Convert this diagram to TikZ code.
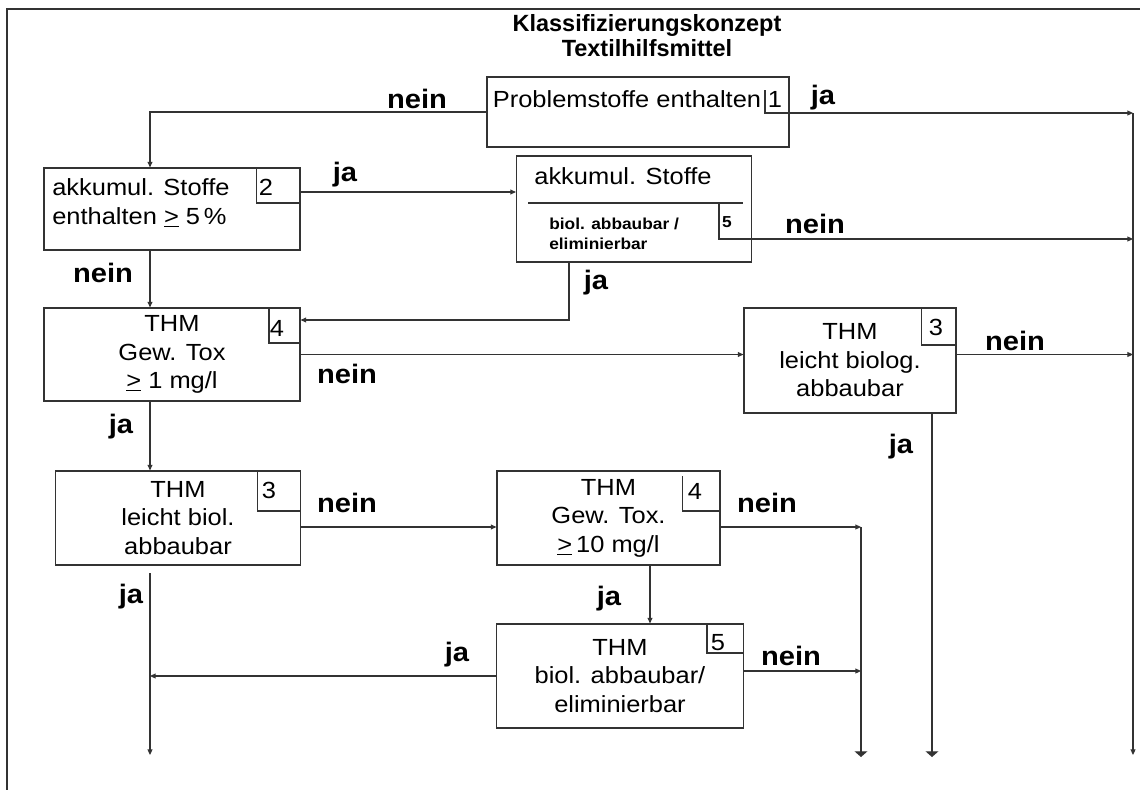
\documentclass[tikz,border=0pt]{standalone}
\usepackage{fontspec}
\setmainfont{Liberation Sans}[FakeStretch=1.09]
\newfontfamily\titlefont{Liberation Sans}
\usetikzlibrary{arrows.meta, positioning}

\begin{document}
\begin{tikzpicture}[
  x=0.025cm, y=-0.025cm,
  box/.style 2 args={draw=black!80, line width=0.8pt, minimum width=#1*0.025cm,
    minimum height=#2*0.025cm, inner sep=0pt, align=center,
    font=\fontsize{16.6}{20.3}\selectfont},
  boxtxt/.style={inner sep=0pt, align=center, font=\fontsize{16.6}{20.3}\selectfont},
  tagnum/.style={inner sep=0pt, font=\fontsize{16.6}{20}\selectfont},
  lbl/.style={inner sep=0pt, font=\bfseries\fontsize{19}{20}\selectfont},
  smalltxt/.style={inner sep=0pt, align=left, font=\bfseries\fontsize{11.3}{14.2}\selectfont},
  wire/.style={draw=black!80, line width=0.8pt},
  flow/.style={wire, -{Triangle[length=4pt, width=3.5pt]}},
  sink/.style={wire, -{Triangle[length=4pt, width=9pt]}}
  ]

\useasboundingbox (0,0) rectangle (1140,790);

% frame
\draw[wire] (7,790) -- (7,9) -- (1140,9);

% Title
\node[align=center, font=\titlefont\bfseries\fontsize{16.7}{17.8}\selectfont] (title) at (647,35.5)
  {Klassifizierungskonzept\\Textilhilfsmittel};

% lower ends of the exits
\coordinate (lx) at (150,755);
\coordinate (mb) at (861,757);
\coordinate (mt) at (932,757);
\coordinate (rt) at (1133,755);

% Boxes
\node[box={302}{70}] (b1) at (638,112) {};
\node[boxtxt] (t1) at (627,99) {Problemstoffe enthalten};
\node[tagnum] (n1) at (775,99) {1};

\node[box={256}{82}] (b2) at (172,209) {};
\node[boxtxt, align=left, anchor=west] (t2) at (52,203)
  {akkumul. Stoffe\\enthalten \underline{>} 5\,\%};
\draw[wire] (256.7,168) |- (300,203);
\node[tagnum] (n2) at (266,187) {2};

\node[box={235}{106}] (bA) at (634,209) {};
\node[boxtxt] (tA) at (623,176) {akkumul. Stoffe};
\draw[wire] (528,203) -- (743,203);
\node[smalltxt, anchor=west] (tA2) at (549,234) {biol. abbaubar /\\eliminierbar};
\node[smalltxt] (nA) at (727,222) {5};

\node[box={256}{93}] (b4) at (172,354.5) {THM\\Gew. Tox\\\underline{>} 1 mg/l};
\draw[wire] (269,308) |- (300,343);
\node[tagnum] (n4) at (277,328) {4};

\node[box={212}{105}] (b3r) at (850,360.5) {THM\\leicht biolog.\\abbaubar};
\draw[wire] (921.5,308) |- (955.7,345);
\node[tagnum] (n3r) at (936,327) {3};

\node[box={245}{94}] (b3l) at (178,518) {THM\\leicht biol.\\abbaubar};
\draw[wire] (257.5,471) |- (300.8,511);
\node[tagnum] (n3l) at (269,490) {3};

\node[box={223}{94}] (b4b) at (608.5,518) {THM\\Gew. Tox.\\\underline{>}\,10 mg/l};
\draw[wire] (682.5,476) |- (720,511);
\node[tagnum] (n4b) at (695,491) {4};

\node[box={247}{104}] (b5) at (620,676) {THM\\biol. abbaubar/\\eliminierbar};
\draw[wire] (707,624) |- (743.6,653);
\node[tagnum] (n5) at (718,643) {5};

% Box 1
\draw[flow] (765,90) -- (765,113) -- (rt |- 0,113);
\draw[flow] (rt |- 0,113) -- (rt);
\node[lbl] (l1) at (823,98) {ja};
\draw[flow] (b1.west) -| (b2.north -| lx);
\node[lbl] (l2) at (417,99) {nein};

% Box 2
\draw[flow] (b2.east |- 0,192) -- (bA.west |- 0,192);
\node[lbl] (l3) at (345,175) {ja};
\draw[flow] (b2.south -| lx) -- (b4.north -| lx);
\node[lbl] (l4) at (103,273) {nein};

% Box A
\draw[flow] (719,203) |- (rt |- 0,239);
\node[lbl] (l5) at (815,224) {nein};
\draw[flow] (bA.south -| 569,0) |- (b4.east |- 0,320);
\node[lbl] (l6) at (596,283) {ja};

% Box 4: 1 mg/l
\draw[flow] (b4.east) -- (b4.east -| b3r.west);
\node[lbl] (l7) at (347,374) {nein};
\draw[flow] (b4.south -| lx) -- (b3l.north -| lx);
\node[lbl] (l8) at (121,427) {ja};

% Box 3 right
\draw[flow] (b4.east -| b3r.east) -- (b4.east -| rt);
\node[lbl] (l9) at (1015,341) {nein};
\draw[sink] (b3r.south -| mt) -- (mt);
\node[lbl] (l10) at (901,447) {ja};

% Box 3 left
\coordinate (y3) at (0,527);
\draw[flow] (b3l.east |- y3) -- (b4b.west |- y3);
\node[lbl] (l11) at (347,503) {nein};
\draw[flow] (lx |- 0,573) -- (lx);
\node[lbl] (l12) at (131,597) {ja};

% Box 4: 10 mg/l
\draw[flow] (b4b.east |- y3) -- (mb |- y3);
\draw[sink] (mb |- y3) -- (mb);
\node[lbl] (l13) at (767,503) {nein};
\draw[flow] (b4b.south -| 650,0) -- (b5.north -| 650,0);
\node[lbl] (l14) at (609,599) {ja};

% Box 5
\draw[flow] (b5.east |- 0,671) -- (mb |- 0,671);
\node[lbl] (l15) at (791,656) {nein};
\draw[flow] (b5.west) -- (b5.west -| lx);
\node[lbl] (l16) at (457,655) {ja};
\end{tikzpicture}
\end{document}
